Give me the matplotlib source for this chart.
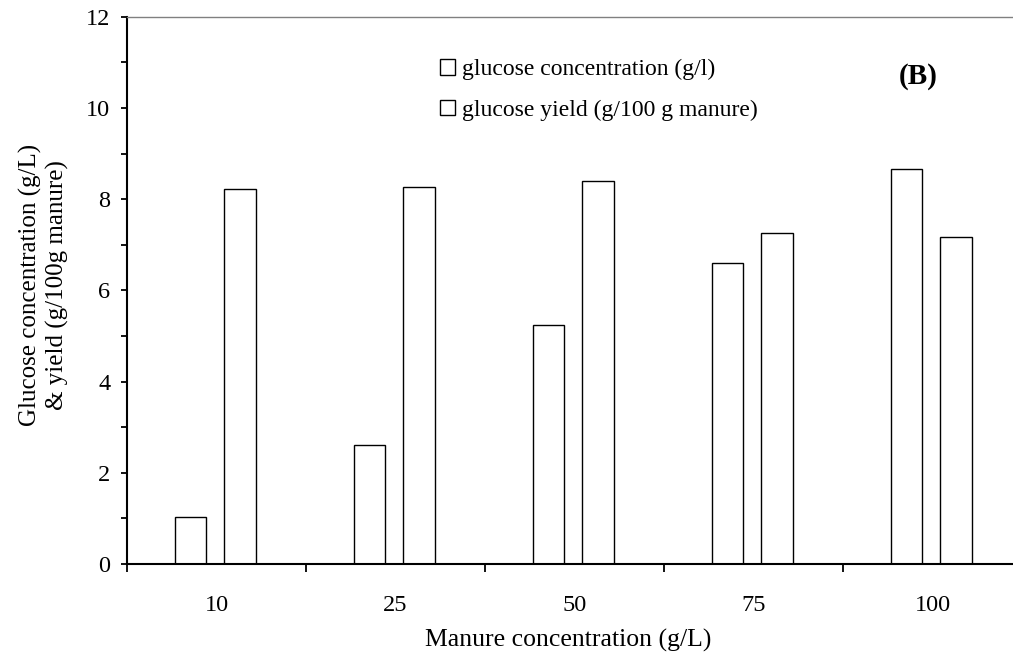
import matplotlib
matplotlib.use("Agg")
import matplotlib.pyplot as plt
import numpy as np

categories = ["10", "25", "50", "75", "100"]
glucose_conc = [1.02, 2.61, 5.24, 6.60, 8.66]
glucose_yield = [8.22, 8.26, 8.40, 7.26, 7.17]
series_labels = ["glucose concentration (g/l)", "glucose yield (g/100 g manure)"]

plt.rcParams['font.family'] = ['Liberation Serif', 'DejaVu Serif']

fig = plt.figure(figsize=(10.13, 6.6), dpi=100)
ax = fig.add_axes([127/1013, 1-564/660, 895/1013, (564-16.7)/660])

x = np.arange(len(categories))
w = 0.178
ax.bar(x - 0.145, glucose_conc, width=w, facecolor='white', edgecolor='black', linewidth=1.0, label=series_labels[0])
ax.bar(x + 0.132, glucose_yield, width=w, facecolor='white', edgecolor='black', linewidth=1.0, label=series_labels[1])

ax.set_xlim(-0.5, len(categories) - 0.5)
ax.set_ylim(0, 12)
ax.set_yticks(np.arange(0, 13, 2))
ax.set_yticks(np.arange(1, 12, 2), minor=True)
ax.tick_params(axis='y', which='both', direction='out', length=4, width=1.3, labelsize=17.5, pad=8)

ax.set_xticks(np.arange(-0.5, len(categories), 1.0))
ax.set_xticklabels([])
ax.set_xticks(x, minor=True)
ax.set_xticklabels(categories, minor=True)
ax.tick_params(axis='x', which='major', direction='out', length=5.5, width=1.3)
ax.tick_params(axis='x', which='minor', length=0, labelsize=17.5, pad=22)

for s in ['left', 'bottom']:
    ax.spines[s].set_linewidth(1.5)
ax.spines['top'].set_color('#808080')
ax.spines['top'].set_linewidth(1.0)
ax.spines['right'].set_visible(False)

ax.legend(loc='upper left', bbox_to_anchor=(440/1013, 1-59/660), bbox_transform=fig.transFigure,
          frameon=False, fontsize=17, handlelength=0.65, handleheight=0.65, handletextpad=0.3,
          labelspacing=0.82, borderpad=0, borderaxespad=0)

fig.text(918/1013, 1-77/660, "(B)", fontsize=21, fontweight='bold', ha='center', va='center')
fig.text(44/1013, 1-285/660, "Glucose concentration (g/L)\n& yield (g/100g manure)", rotation=90,
         ha='center', va='center', multialignment='center', fontsize=18, linespacing=1.2)
fig.text(568/1013, 1-640/660, "Manure concentration (g/L)", ha='center', va='center', fontsize=18.5)

fig.savefig("out.png", dpi=100)
